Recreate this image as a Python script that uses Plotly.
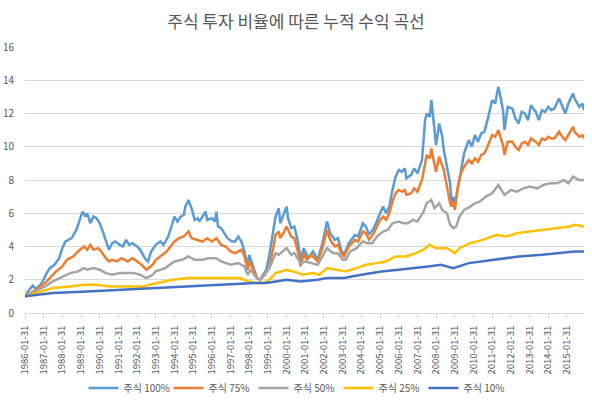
import pandas as pd
import plotly.graph_objects as go

# ---------------- data (month, cumulative value) ----------------
s100_m = ["1986-01","1986-03","1986-06","1986-08","1986-11","1987-01","1987-03","1987-05","1987-08","1987-11",
          "1988-01","1988-03","1988-05","1988-07","1988-10","1988-12","1989-02","1989-04","1989-05","1989-07",
          "1989-09","1989-11","1990-01","1990-03","1990-05","1990-07","1990-09","1990-11","1991-02","1991-04",
          "1991-06","1991-08","1991-10","1992-01","1992-03","1992-06","1992-08","1992-10","1993-01","1993-04",
          "1993-06","1993-09","1994-01","1994-03","1994-05","1994-07","1994-08","1994-10","1994-12","1995-02",
          "1995-04","1995-05","1995-07","1995-09","1995-10","1996-01","1996-03","1996-04","1996-05","1996-07",
          "1996-09","1996-11","1997-02","1997-04","1997-06","1997-08","1997-10","1997-12","1998-01","1998-03",
          "1998-05","1998-06","1998-08","1998-10","1998-12","1999-02","1999-04","1999-06","1999-08","1999-09",
          "1999-11","2000-01","2000-02","2000-04","2000-06","2000-08","2000-10","2000-12","2001-03","2001-06",
          "2001-09","2001-12","2002-03","2002-05","2002-08","2002-10","2002-12","2003-02","2003-05","2003-09",
          "2003-11","2004-02","2004-04","2004-06","2004-09","2004-11","2005-01","2005-03","2005-05","2005-07",
          "2005-09","2005-11","2006-01","2006-03","2006-05","2006-06","2006-09","2006-11","2007-01","2007-04",
          "2007-05","2007-06","2007-07","2007-09","2007-10","2007-11","2008-01","2008-03","2008-05","2008-06",
          "2008-08","2008-10","2008-11","2008-12","2009-01","2009-03","2009-05","2009-07","2009-10","2009-12",
          "2010-02","2010-04","2010-06","2010-08","2010-10","2011-01","2011-03","2011-05","2011-06","2011-08",
          "2011-09","2011-11","2012-02","2012-04","2012-06","2012-08","2012-10","2012-12","2013-02","2013-05",
          "2013-07","2013-09","2013-11","2014-01","2014-03","2014-05","2014-08","2014-10","2014-12","2015-02",
          "2015-05","2015-06","2015-09","2015-11","2015-12"]
s100_v = [1.00,1.30,1.65,1.45,1.70,2.00,2.40,2.70,2.90,3.30,
          3.90,4.30,4.40,4.50,5.00,5.60,6.10,5.80,6.00,5.40,
          5.80,5.70,5.40,4.90,4.30,3.80,4.20,4.30,4.10,4.00,
          4.40,4.10,4.20,4.00,3.80,3.30,3.10,3.70,4.10,4.30,
          4.10,4.60,5.80,5.50,5.80,5.90,6.40,6.80,6.30,5.60,
          5.70,5.50,5.80,6.10,5.60,5.70,5.50,6.10,5.20,5.10,
          4.80,4.50,4.30,4.30,4.60,4.30,3.70,2.80,3.50,3.00,
          2.40,2.10,2.00,2.30,2.60,3.50,4.80,5.80,6.30,5.40,
          5.90,6.40,5.70,5.10,5.20,4.40,3.20,3.90,3.30,3.70,
          3.20,4.20,5.50,4.80,4.40,4.50,3.80,3.50,4.20,4.70,
          4.60,5.40,5.20,4.70,5.10,5.50,6.00,6.40,6.00,6.40,
          7.40,8.20,8.60,8.50,8.70,8.10,8.30,8.70,8.40,9.20,
          10.40,11.60,12.00,11.80,12.80,11.80,10.10,11.40,10.60,9.80,
          8.80,7.80,6.60,7.00,6.50,7.50,8.50,9.60,10.40,10.00,
          10.70,10.30,10.80,10.90,11.60,12.80,12.60,13.60,13.20,12.20,
          11.00,12.40,12.30,11.70,11.40,12.10,12.00,11.60,12.50,12.10,
          11.60,12.20,12.10,12.40,12.20,12.30,12.90,12.40,12.00,12.60,
          13.20,12.90,12.40,12.60,12.20]

s75_m = ["1986-01","1986-08","1987-02","1987-06","1987-09","1988-01","1988-04","1988-08","1988-11","1989-03",
         "1989-05","1989-07","1989-09","1989-12","1990-02","1990-05","1990-07","1990-09","1990-12","1991-03",
         "1991-07","1991-10","1992-01","1992-04","1992-07","1992-11","1993-01","1993-05","1993-08","1994-01",
         "1994-04","1994-07","1994-10","1994-12","1995-04","1995-07","1995-10","1996-01","1996-04","1996-07",
         "1996-10","1997-01","1997-04","1997-08","1997-10","1997-12","1998-01","1998-04","1998-06","1998-08",
         "1998-10","1999-02","1999-04","1999-06","1999-08","1999-09","1999-11","2000-01","2000-04","2000-06",
         "2000-08","2000-10","2000-12","2001-02","2001-05","2001-09","2001-12","2002-03","2002-05","2002-08",
         "2002-10","2002-12","2003-02","2003-05","2003-09","2003-11","2004-02","2004-04","2004-06","2004-09",
         "2004-11","2005-01","2005-03","2005-05","2005-07","2005-09","2005-11","2006-01","2006-03","2006-05",
         "2006-06","2006-09","2006-11","2007-01","2007-04","2007-05","2007-06","2007-07","2007-09","2007-10",
         "2007-11","2008-01","2008-03","2008-05","2008-06","2008-08","2008-10","2008-11","2008-12","2009-01",
         "2009-03","2009-05","2009-07","2009-10","2009-12","2010-02","2010-04","2010-06","2010-08","2010-10",
         "2011-01","2011-03","2011-05","2011-06","2011-08","2011-09","2011-11","2012-02","2012-04","2012-06",
         "2012-08","2012-10","2012-12","2013-02","2013-05","2013-07","2013-09","2013-11","2014-01","2014-03",
         "2014-05","2014-08","2014-10","2014-12","2015-02","2015-05","2015-06","2015-09","2015-11","2015-12"]
s75_v = [1.0,1.4,1.8,2.2,2.5,2.8,3.2,3.4,3.7,4.0,
         3.8,4.1,3.8,3.9,3.7,3.3,3.1,3.2,3.1,3.3,
         3.1,3.3,3.1,2.9,2.6,2.9,3.2,3.5,3.7,4.3,
         4.5,4.6,4.9,4.5,4.4,4.3,4.5,4.3,4.5,4.1,
         4.0,3.7,3.6,3.8,3.4,2.6,3.1,2.6,2.1,2.0,
         2.2,2.7,3.7,4.7,4.9,4.5,4.8,5.2,4.6,4.5,
         3.8,2.8,3.6,3.2,3.5,3.1,3.9,5.0,4.4,4.0,
         4.1,3.6,3.4,4.0,4.4,4.3,4.9,4.8,4.4,4.8,
         5.2,5.6,5.8,5.6,6.0,6.7,7.2,7.4,7.3,7.4,
         7.1,7.2,7.5,7.3,8.0,8.5,9.2,9.5,9.3,9.9,
         9.4,8.5,9.4,8.8,8.6,7.6,6.6,6.4,6.7,6.2,
         7.6,8.4,8.8,9.2,9.0,9.3,9.1,9.5,9.6,10.0,
         10.7,10.6,11.0,10.7,10.1,9.5,10.3,10.3,10.0,9.8,
         10.2,10.3,10.1,10.5,10.3,10.1,10.5,10.4,10.6,10.5,
         10.5,10.9,10.6,10.4,10.7,11.2,10.9,10.6,10.7,10.5]

s50_m = ["1986-01","1986-08","1987-02","1987-07","1988-01","1988-06","1988-11","1989-03","1989-05","1989-09",
         "1990-01","1990-05","1990-09","1991-02","1991-07","1991-11","1992-03","1992-07","1992-11","1993-01",
         "1993-07","1994-01","1994-06","1994-10","1995-02","1995-07","1995-11","1996-04","1996-07","1997-01",
         "1997-06","1997-10","1997-12","1998-02","1998-05","1998-08","1998-11","1999-03","1999-06","1999-08",
         "2000-01","2000-04","2000-06","2000-08","2000-10","2001-01","2001-05","2001-09","2001-12","2002-03",
         "2002-07","2002-10","2003-01","2003-03","2003-06","2003-10","2004-02","2004-05","2004-08","2004-11",
         "2005-03","2005-06","2005-09","2006-01","2006-04","2006-07","2006-10","2007-01","2007-05","2007-07",
         "2007-10","2007-12","2008-03","2008-05","2008-08","2008-10","2008-12","2009-02","2009-04","2009-07",
         "2009-11","2010-02","2010-05","2010-09","2011-01","2011-05","2011-07","2011-09","2012-01","2012-05",
         "2012-09","2013-01","2013-06","2013-10","2014-02","2014-07","2014-11","2015-02","2015-05","2015-09",
         "2015-12"]
s50_v = [1.0,1.3,1.6,1.9,2.2,2.4,2.5,2.7,2.6,2.7,
         2.6,2.4,2.3,2.4,2.4,2.4,2.3,2.1,2.3,2.5,
         2.7,3.1,3.2,3.4,3.2,3.2,3.3,3.3,3.1,2.9,
         3.0,2.8,2.3,2.6,2.2,2.0,2.3,2.9,3.6,3.5,
         3.9,3.5,3.6,3.3,3.0,3.1,3.0,2.9,3.4,3.9,
         3.6,3.6,3.2,3.2,3.7,3.9,4.3,4.2,4.2,4.6,
         4.9,5.0,5.4,5.5,5.4,5.4,5.6,5.5,6.1,6.6,
         6.8,6.3,6.6,6.2,6.0,5.3,5.1,5.2,5.8,6.2,
         6.4,6.6,6.7,7.0,7.2,7.7,7.4,7.1,7.4,7.3,
         7.5,7.6,7.5,7.7,7.8,7.8,8.0,7.8,8.2,8.0,
         8.0]

s25_m = ["1986-01","1986-11","1987-07","1988-06","1989-03","1989-11","1990-08","1991-07","1992-05","1993-02",
         "1993-12","1994-10","1995-09","1996-08","1997-07","1997-12","1998-05","1998-10","1999-02","1999-06",
         "2000-01","2000-09","2000-11","2001-06","2001-10","2002-03","2002-09","2003-03","2003-10","2004-04",
         "2004-11","2005-05","2005-11","2006-06","2006-12","2007-05","2007-09","2008-01","2008-08","2009-01",
         "2009-04","2009-11","2010-07","2011-04","2011-10","2012-05","2013-01","2013-10","2014-07","2015-03",
         "2015-06","2015-12"]
s25_v = [1.0,1.3,1.5,1.6,1.7,1.7,1.6,1.6,1.6,1.8,
         2.0,2.1,2.1,2.1,2.1,1.9,1.8,1.8,2.0,2.4,
         2.6,2.4,2.3,2.4,2.3,2.7,2.6,2.5,2.7,2.9,
         3.0,3.1,3.4,3.4,3.6,3.8,4.1,3.9,3.9,3.6,
         3.9,4.2,4.4,4.7,4.6,4.8,4.9,5.0,5.1,5.2,
         5.3,5.2]

s10_m = ["1986-01","1987-07","1989-05","1991-02","1993-02","1994-10","1996-08","1998-05","1998-12","1999-06",
         "2000-01","2000-10","2001-09","2002-03","2003-02","2004-01","2005-02","2006-01","2007-01","2007-08",
         "2008-04","2008-12","2009-10","2011-01","2012-06","2013-09","2014-10","2015-06","2015-12"]
s10_v = [1.0,1.2,1.3,1.4,1.5,1.6,1.7,1.8,1.8,1.9,
         2.0,1.9,2.0,2.1,2.1,2.3,2.5,2.6,2.7,2.8,
         2.9,2.7,3.0,3.2,3.4,3.5,3.6,3.7,3.7]

series_names = ["주식 100%", "주식 75%", "주식 50%", "주식 25%", "주식 10%"]
series_colors = ["#5B9BD5", "#ED7D31", "#A5A5A5", "#FFC000", "#4472C4"]
tick_years = list(range(1986, 2016))
tick_labels = [f"{y}-01-31" for y in tick_years]

# ---------------- figure ----------------
def month_end(months):
    return (pd.to_datetime(months) + pd.offsets.MonthEnd(0)).strftime("%Y-%m-%d").tolist()

fig = go.Figure()
for name, color, m, v in zip(series_names, series_colors,
                             [s100_m, s75_m, s50_m, s25_m, s10_m],
                             [s100_v, s75_v, s50_v, s25_v, s10_v]):
    fig.add_trace(go.Scatter(x=month_end(m), y=v, mode="lines", name=name,
                             line=dict(color=color, width=2.5)))

txt = "#595959"
fig.update_layout(
    width=592, height=401,
    margin=dict(l=25, r=8, t=47, b=88, autoexpand=False),
    paper_bgcolor="white", plot_bgcolor="white",
    font=dict(family="Noto Sans CJK KR", color=txt, size=10),
    title=dict(text="주식 투자 비율에 따른 누적 수익 곡선", x=0.5, xanchor="center",
               y=1 - 22 / 401, yref="container", yanchor="middle",
               font=dict(size=17, color=txt)),
    showlegend=True,
    legend=dict(orientation="h", x=0.5, xanchor="center", xref="container",
                y=1 - 388 / 401, yanchor="middle", yref="container",
                font=dict(size=10, color=txt), itemwidth=30,
                entrywidth=40, entrywidthmode="pixels"),
)
fig.update_xaxes(type="date", range=["1986-01-31", "2015-12-31"], automargin=False,
                 tickvals=[f"{y}-01-31" for y in tick_years], ticktext=tick_labels,
                 tickangle=-90, showgrid=False, showline=True, linecolor="#D9D9D9",
                 ticks="outside", ticklen=5, tickcolor="#D9D9D9", ticklabelstandoff=3,
                 tickfont=dict(size=9.5, color=txt))
fig.update_yaxes(range=[0, 16], dtick=2, showgrid=True, gridcolor="#D9D9D9", automargin=False,
                 zeroline=False, showline=False, ticks="", ticklabelstandoff=10,
                 tickfont=dict(size=10, color=txt))

fig.write_html("out.html")
